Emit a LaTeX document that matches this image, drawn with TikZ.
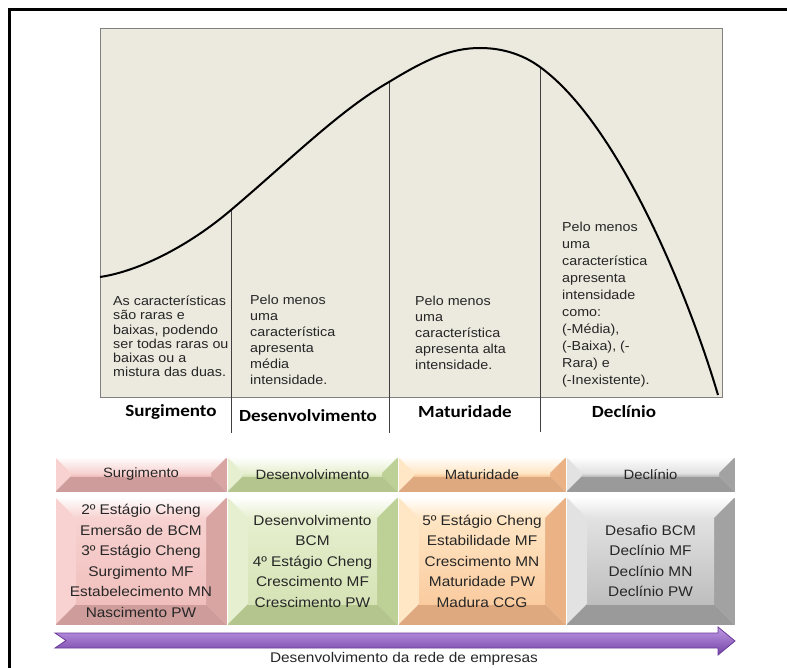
\documentclass[tikz,border=0pt]{standalone}
\usepackage{fontspec}
\setmainfont{Liberation Sans}
\newfontfamily\arx[FakeStretch=1.1]{Liberation Sans}
\newfontfamily\calb[FakeStretch=1.12]{Carlito}
\usetikzlibrary{calc}
\definecolor{chartbg}{HTML}{ECE9DF}
\definecolor{chartln}{HTML}{808080}
\definecolor{slight}{HTML}{F7D2D0}
\definecolor{smid}{HTML}{F0BFBD}
\definecolor{sdark}{HTML}{D9A5A3}
\definecolor{dlight}{HTML}{E6EFCF}
\definecolor{dmid}{HTML}{D5E3B5}
\definecolor{ddark}{HTML}{BDD095}
\definecolor{mlight}{HTML}{FFE6C4}
\definecolor{mmid}{HTML}{FACB9F}
\definecolor{mdark}{HTML}{EBB286}
\definecolor{glight}{HTML}{E2E2E2}
\definecolor{gmid}{HTML}{BEBEBE}
\definecolor{gdark}{HTML}{A2A2A2}
\definecolor{arrtop}{HTML}{BE98E4}
\definecolor{arrmid}{HTML}{9666C6}
\definecolor{arrbot}{HTML}{7444A6}
\definecolor{arredge}{HTML}{6A3A9A}
\newcommand{\bevelbox}[5]{%
  \shade[top color=white, bottom color=#3] (#1.north west) -- (#1.north east) -- ($(#1.north east)+(-#2,#2)$) -- ($(#1.north west)+(#2,#2)$) -- cycle;
  \fill[#3] (#1.north west) -- ($(#1.north west)+(#2,#2)$) -- ($(#1.south west)+(#2,-#2)$) -- (#1.south west) -- cycle;
  \fill[#5] (#1.north east) -- ($(#1.north east)+(-#2,#2)$) -- ($(#1.south east)+(-#2,-#2)$) -- (#1.south east) -- cycle;
  \fill[#5!95!black] (#1.south west) -- ($(#1.south west)+(#2,-#2)$) -- ($(#1.south east)+(-#2,-#2)$) -- (#1.south east) -- cycle;
  \shade[top color=#3, bottom color=#4] ($(#1.north west)+(#2,#2)$) rectangle ($(#1.south east)+(-#2,-#2)$);
  \draw[white, line width=0.6pt] (#1.north west) rectangle (#1.south east);
}
\tikzset{
  frame/.style={line width=3pt, black},
  chtxt/.style={anchor=north west, align=left, inner sep=0pt, text=black!85},
  phase/.style={anchor=base, inner sep=0pt, font=\calb\bfseries\fontsize{17}{20}\selectfont},
  boxarea/.style={inner sep=0pt, outer sep=0pt},
  hdrtxt/.style={inner sep=0pt, font=\arx\fontsize{13.5}{16}\selectfont, text=black!85},
  bodytxt/.style={inner sep=0pt, align=center, font=\arx\fontsize{14}{20.5}\selectfont, text=black!85},
  vline/.style={line width=1pt, black!75},
}
\begin{document}
\begin{tikzpicture}[x=1pt, y=-1pt]
\useasboundingbox (0,0) rectangle (787,668);
% outer frame (partially visible)
\draw[frame] (9,668) -- (9,10) -- (787,10);
% chart
\node[boxarea, draw=chartln, fill=chartbg, line width=1pt, minimum width=622pt, minimum height=368pt] (chart) at (411,213) {};
% curve points
\coordinate (c0) at (100,277);
\coordinate (c1) at (231,210);
\coordinate (c2) at (389,82);
\coordinate (pk) at (480,48);
\coordinate (c3) at (540,67);
\coordinate (cend) at (718,395);
\coordinate (e1) at (231,433);
\coordinate (e2) at (389,433);
\coordinate (e3) at (540,432);
\draw[vline] (c1) -- (e1);
\draw[vline] (c2) -- (e2);
\draw[vline] (c3) -- (e3);
\draw[line width=2pt, line join=round] (c0) .. controls (140,271) and (190,245) .. (c1)
  .. controls (290,160) and (340,110) .. (c2)
  .. controls (425,60) and (450,48) .. (pk)
  .. controls (505,48) and (525,56) .. (c3)
  .. controls (620,125) and (690,300) .. (cend);
% chart texts
\node[chtxt, font=\arx\fontsize{13}{14.2}\selectfont] (t1) at (113,296) {As características\\são raras e\\baixas, podendo\\ser todas raras ou\\baixas ou a\\mistura das duas.};
\node[chtxt, font=\arx\fontsize{13}{16}\selectfont] (t2) at (250,295) {Pelo menos\\uma\\característica\\apresenta\\média\\intensidade.};
\node[chtxt, font=\arx\fontsize{13}{16}\selectfont] (t3) at (415,296) {Pelo menos\\uma\\característica\\apresenta alta\\intensidade.};
\node[chtxt, font=\arx\fontsize{13}{17}\selectfont] (t4) at (562,222) {Pelo menos\\uma\\característica\\apresenta\\intensidade\\como:\\(-Média),\\(-Baixa), (-\\Rara) e\\(-Inexistente).};
% phase labels
\node[phase] (p1) at (171,416) {Surgimento};
\node[phase] (p2) at (308,421) {Desenvolvimento};
\node[phase] (p3) at (465,417) {Maturidade};
\node[phase] (p4) at (624,417) {Declínio};
% header boxes
\node[boxarea, minimum width=172pt, minimum height=35pt] (h1) at (141,474.5) {};
\node[boxarea, minimum width=171pt, minimum height=35pt] (h2) at (312.5,474.5) {};
\node[boxarea, minimum width=168pt, minimum height=35pt] (h3) at (482,474.5) {};
\node[boxarea, minimum width=169pt, minimum height=35pt] (h4) at (650.5,474.5) {};
\bevelbox{h1}{16}{slight}{smid}{sdark}
\bevelbox{h2}{16}{dlight}{dmid}{ddark}
\bevelbox{h3}{16}{mlight}{mmid}{mdark}
\bevelbox{h4}{16}{glight}{gmid}{gdark}
\node[hdrtxt] (ht1) at (h1) {Surgimento};
\node[hdrtxt] (ht2) at (h2) {Desenvolvimento};
\node[hdrtxt] (ht3) at (h3) {Maturidade};
\node[hdrtxt] (ht4) at (h4) {Declínio};
% body boxes
\node[boxarea, minimum width=172pt, minimum height=128pt] (b1) at (141,561) {};
\node[boxarea, minimum width=171pt, minimum height=128pt] (b2) at (312.5,561) {};
\node[boxarea, minimum width=168pt, minimum height=128pt] (b3) at (482,561) {};
\node[boxarea, minimum width=169pt, minimum height=128pt] (b4) at (650.5,561) {};
\bevelbox{b1}{21}{slight}{smid}{sdark}
\bevelbox{b2}{21}{dlight}{dmid}{ddark}
\bevelbox{b3}{21}{mlight}{mmid}{mdark}
\bevelbox{b4}{21}{glight}{gmid}{gdark}
\node[bodytxt] (bt1) at (b1) {2º Estágio Cheng\\Emersão de BCM\\3º Estágio Cheng\\Surgimento MF\\Estabelecimento MN\\Nascimento PW};
\node[bodytxt] (bt2) at (b2) {Desenvolvimento\\BCM\\4º Estágio Cheng\\Crescimento MF\\Crescimento PW};
\node[bodytxt] (bt3) at (b3) {5º Estágio Cheng\\Estabilidade MF\\Crescimento MN\\Maturidade PW\\Madura CCG};
\node[bodytxt] (bt4) at (b4) {Desafio BCM\\Declínio MF\\Declínio MN\\Declínio PW};
% arrow
\coordinate (a0) at (55,633);
\coordinate (a1) at (718,633);
\coordinate (a2) at (718,627);
\coordinate (tip) at (735,641);
\coordinate (a3) at (718,655);
\coordinate (a4) at (718,648);
\coordinate (a5) at (55,648);
\coordinate (notch) at (66,640.5);
\shade[top color=arrtop, middle color=arrmid, bottom color=arrbot, draw=arredge, line width=0.8pt] (a0) -- (a1) -- (a2) -- (tip) -- (a3) -- (a4) -- (a5) -- (notch) -- cycle;
\node[anchor=base, inner sep=0pt, font=\arx\fontsize{14}{16}\selectfont, text=black!85] (cap) at (404,662) {Desenvolvimento da rede de empresas};
\end{tikzpicture}
\end{document}
